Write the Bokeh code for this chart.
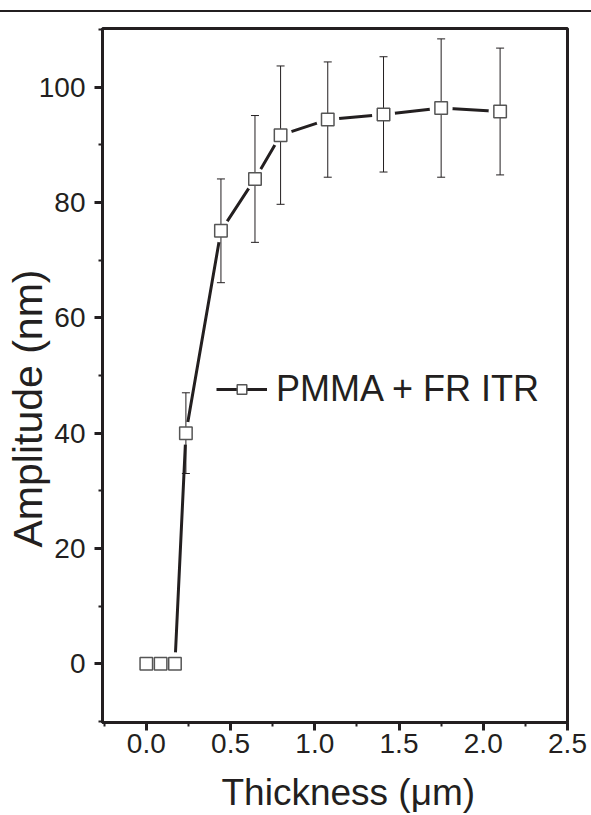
import numpy as np
from bokeh.plotting import figure
from bokeh.layouts import column
from bokeh.models import (ColumnDataSource, SingleIntervalTicker, PrintfTickFormatter,
                          Legend, LegendItem, Range1d, Title, Div)
from bokeh.embed import file_html
from bokeh.resources import INLINE

# ---- data ----
thickness = [0.0, 0.085, 0.17, 0.235, 0.443, 0.645, 0.797, 1.077, 1.408, 1.75, 2.10]
amplitude = [0.0, 0.0, 0.0, 40.0, 75.1, 84.1, 91.7, 94.4, 95.3, 96.4, 95.8]
error = [np.nan, np.nan, np.nan, 7.0, 9.0, 11.0, 12.0, 10.0, 10.0, 12.0, 11.0]
series_name = "PMMA + FR ITR"
x_title = "Thickness (\u03bcm)"
y_title = "Amplitude (nm)"

INK = "#231f20"
FONT = "Liberation Sans"

amp = np.array(amplitude)
err = np.array(error)
src = ColumnDataSource(dict(x=thickness, y=amplitude,
                            lo=(amp - err).tolist(), hi=(amp + err).tolist()))

# thin rule across the top of the page
rule = Div(text='<div style="margin:10px 0 0 0;height:2px;width:591px;background:%s"></div>' % INK,
           width=591, height=12, margin=0)

p = figure(width=591, height=803, output_backend="svg", toolbar_location=None,
           x_range=Range1d(-0.26, 2.5), y_range=Range1d(-10.2, 110.2),
           min_border_left=102, min_border_right=24, min_border_top=16, min_border_bottom=93,
           margin=0)
p.background_fill_color = "white"
p.border_fill_color = "white"
p.grid.visible = False
p.outline_line_color = INK
p.outline_line_width = 3

# line, white halo (gaps), error bars, markers
line_r = p.line("x", "y", source=src, line_color=INK, line_width=3)
p.scatter("x", "y", source=src, marker="circle", size=23, fill_color="white", line_color=None)
p.segment(x0="x", y0="lo", x1="x", y1="hi", source=src, line_color=INK, line_width=1)
p.scatter("x", "hi", source=src, marker="dash", size=8, line_color=INK, line_width=1)
p.scatter("x", "lo", source=src, marker="dash", size=8, line_color=INK, line_width=1)
mark_r = p.scatter("x", "y", source=src, marker="square", size=12.5, fill_color="white",
                   line_color="#555555", line_width=1.5)

# axes
p.xaxis.ticker = SingleIntervalTicker(interval=0.5, num_minor_ticks=2)
p.yaxis.ticker = SingleIntervalTicker(interval=20, num_minor_ticks=2)
p.xaxis.formatter = PrintfTickFormatter(format="%.1f")
for ax in (p.xaxis, p.yaxis):
    ax.axis_line_width = 3
    ax.axis_line_color = INK
    ax.major_tick_line_width = 3
    ax.major_tick_line_color = INK
    ax.minor_tick_line_width = 2
    ax.minor_tick_line_color = INK
    ax.major_tick_out = 8
    ax.major_tick_in = 0
    ax.minor_tick_out = 4
    ax.minor_tick_in = 0
    ax.major_label_text_font = FONT
    ax.major_label_text_font_size = "28px"
    ax.major_label_text_color = INK
p.yaxis.major_label_standoff = 9
p.xaxis.major_label_standoff = 3


def make_title(text, size, offset, valign, standoff):
    t = Title(text=text, align="left", vertical_align=valign, offset=offset,
              text_font=FONT, text_font_size=size, text_font_style="normal",
              text_color=INK)
    try:
        t.standoff = standoff
    except ValueError:
        t.standoff = 0
    return t


p.add_layout(make_title(y_title, "41px", 175, "bottom", -31), "left")
# small empty spacer between the x axis and its title
p.add_layout(make_title(" ", "1px", 0, "bottom", 11), "below")
p.add_layout(make_title(x_title, "37px", 119, "bottom", 0), "below")

legend = Legend(items=[LegendItem(label=series_name, renderers=[line_r, mark_r])],
                location=(114, 312), glyph_width=51, glyph_height=24, label_standoff=9,
                padding=0, margin=0, spacing=0, border_line_alpha=0,
                background_fill_alpha=0, label_text_font=FONT,
                label_text_font_size="36px", label_text_color=INK)
p.add_layout(legend)

layout = column(rule, p, spacing=0)
open("out.html", "w").write(file_html(layout, INLINE))
